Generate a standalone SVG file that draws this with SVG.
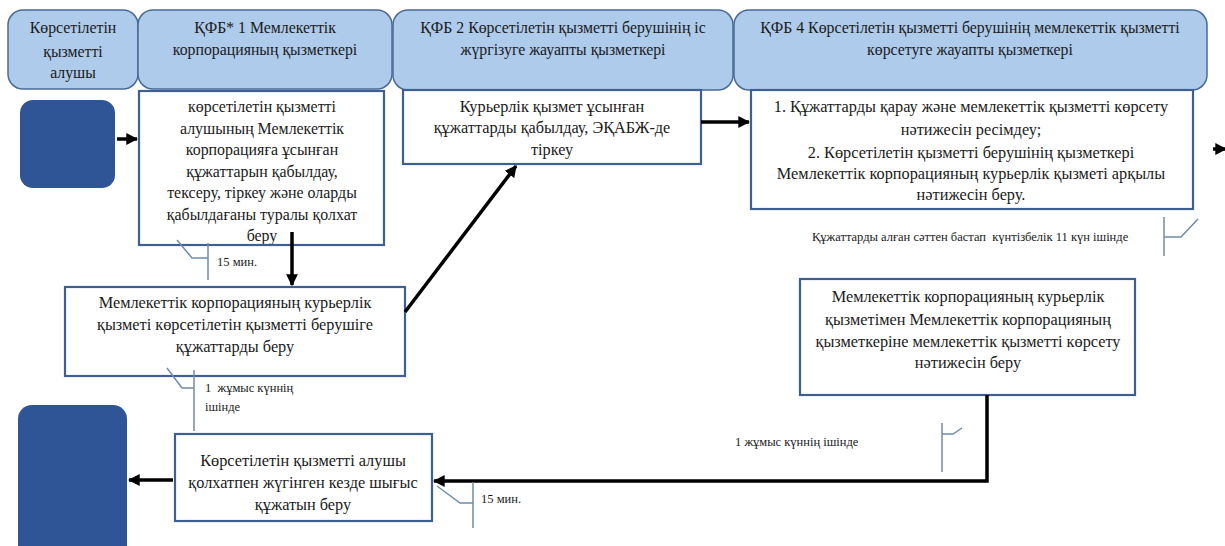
<svg xmlns="http://www.w3.org/2000/svg" width="1225" height="546" viewBox="0 0 1225 546">
<defs>
<style>
.hdr{fill:#AECBEB;stroke:#4A6A96;stroke-width:1.5}
.term{fill:#2F5597;stroke:none}
.box{fill:#FFFFFF;stroke:#3D5F91;stroke-width:2.2}
.t{font-family:"Liberation Serif","DejaVu Serif","Times New Roman",serif;fill:#1a1a1a;text-anchor:middle}
.th{font-size:15.8px}
.tb{font-size:16.3px}
.ta{font-size:15.9px}
.ts{font-family:"Liberation Serif","DejaVu Serif","Times New Roman",serif;fill:#1a1a1a;font-size:12.5px;white-space:pre}
.con{fill:none;stroke:#000;stroke-width:3.5}
.call{fill:none;stroke:#6F8BAA;stroke-width:1.5}
</style>
<marker id="ah" viewBox="0 0 10 10" refX="9" refY="5" markerWidth="3.4" markerHeight="3.4" orient="auto">
<path d="M0,0 L10,5 L0,10 z" fill="#000"/>
</marker>
</defs>

<g id="lane-recipient">
<rect class="hdr" x="8" y="10" width="130" height="79" rx="15"/>
<text class="t th" x="73" y="33">Көрсетілетін</text>
<text class="t th" x="73" y="57">қызметті</text>
<text class="t th" x="73" y="78">алушы</text>
</g>
<g id="lane-sfb1">
<rect class="hdr" x="138" y="10" width="254" height="79" rx="15"/>
<text class="t th" x="265" y="33">ҚФБ* 1 Мемлекеттік</text>
<text class="t th" x="265" y="55">корпорацияның қызметкері</text>
</g>
<g id="lane-sfb2">
<rect class="hdr" x="393" y="10" width="340" height="80" rx="15"/>
<text class="t th" x="563" y="33">ҚФБ 2 Көрсетілетін қызметті берушінің іс</text>
<text class="t th" x="563" y="55">жүргізуге жауапты қызметкері</text>
</g>
<g id="lane-sfb4">
<rect class="hdr" x="734" y="10" width="473" height="80" rx="15"/>
<text class="t th" x="970" y="33">ҚФБ 4 Көрсетілетін қызметті берушінің мемлекеттік қызметті</text>
<text class="t th" x="970" y="55">көрсетуге жауапты қызметкері</text>
</g>

<g id="start">
<rect class="term" x="20" y="100" width="95" height="88" rx="13"/>
</g>
<g id="end">
<rect class="term" x="18" y="405" width="109" height="160" rx="14"/>
</g>

<g id="step-a">
<text class="t ta" x="262" y="112">көрсетілетін қызметті</text>
<text class="t ta" x="262" y="133.5">алушының Мемлекеттік</text>
<text class="t ta" x="262" y="155">корпорацияға ұсынған</text>
<text class="t ta" x="262" y="176.5">құжаттарын қабылдау,</text>
<text class="t ta" x="262" y="198">тексеру, тіркеу және оларды</text>
<text class="t ta" x="262" y="219.5">қабылдағаны туралы қолхат</text>
<text class="t ta" x="262" y="241">беру</text>
<rect class="box" x="139" y="91" width="245" height="154" style="fill:none"/>
</g>

<g id="step-b">
<rect class="box" x="65" y="287" width="340" height="89"/>
<text class="t tb" x="235" y="308">Мемлекеттік корпорацияның курьерлік</text>
<text class="t tb" x="235" y="330">қызметі көрсетілетін қызметті берушіге</text>
<text class="t tb" x="235" y="352">құжаттарды беру</text>
</g>

<g id="step-c">
<rect class="box" x="403" y="90" width="298" height="74"/>
<text class="t tb" x="552" y="112">Курьерлік қызмет ұсынған</text>
<text class="t tb" x="552" y="133">құжаттарды қабылдау, ЭҚАБЖ-де</text>
<text class="t tb" x="552" y="155">тіркеу</text>
</g>

<g id="step-d">
<rect class="box" x="751" y="90" width="442" height="119"/>
<text class="t tb" x="971" y="112">1. Құжаттарды қарау және мемлекеттік қызметті көрсету</text>
<text class="t tb" x="971" y="135">нәтижесін ресімдеу;</text>
<text class="t tb" x="971" y="158">2. Көрсетілетін қызметті берушінің қызметкері</text>
<text class="t tb" x="971" y="179">Мемлекеттік корпорацияның курьерлік қызметі арқылы</text>
<text class="t tb" x="971" y="200">нәтижесін беру.</text>
</g>

<g id="step-e">
<rect class="box" x="800" y="279" width="335" height="116"/>
<text class="t tb" x="968" y="302">Мемлекеттік корпорацияның курьерлік</text>
<text class="t tb" x="968" y="325">қызметімен Мемлекеттік корпорацияның</text>
<text class="t tb" x="968" y="347">қызметкеріне мемлекеттік қызметті көрсету</text>
<text class="t tb" x="968" y="368">нәтижесін беру</text>
</g>

<g id="step-f">
<rect class="box" x="175" y="434" width="257" height="87"/>
<text class="t tb" x="303" y="466">Көрсетілетін қызметті алушы</text>
<text class="t tb" x="303" y="488">қолхатпен жүгінген кезде шығыс</text>
<text class="t tb" x="303" y="510">құжатын беру</text>
</g>

<g id="connectors">
<line class="con" x1="117" y1="139" x2="137" y2="139" marker-end="url(#ah)"/>
<line class="con" x1="292" y1="232" x2="292" y2="285" marker-end="url(#ah)"/>
<line class="con" x1="405" y1="312" x2="516" y2="166" marker-end="url(#ah)"/>
<line class="con" x1="701" y1="122" x2="749" y2="122" marker-end="url(#ah)"/>
<line class="con" x1="1213" y1="149" x2="1226" y2="149" marker-end="url(#ah)"/>
<polyline class="con" points="987,395 987,481 434,481" marker-end="url(#ah)"/>
<line class="con" x1="173" y1="480" x2="129" y2="480" marker-end="url(#ah)"/>
</g>

<g id="callouts">
<polyline class="call" points="177,240 192,258 208,258"/>
<line class="call" x1="208" y1="243" x2="208" y2="280"/>
<text class="ts" x="217" y="266">15 мин.</text>

<polyline class="call" points="167,368 182,388 194,388"/>
<line class="call" x1="194" y1="370" x2="194" y2="431"/>
<text class="ts" x="205" y="392" xml:space="preserve">1  жұмыс күннің</text>
<text class="ts" x="205" y="411">ішінде</text>

<line class="call" x1="1164" y1="217" x2="1164" y2="256"/>
<polyline class="call" points="1164,237 1181,237 1198,219"/>
<text class="ts" x="812" y="241" xml:space="preserve">Құжаттарды алған сәттен бастап  күнтізбелік 11 күн ішінде</text>

<line class="call" x1="942" y1="423" x2="942" y2="472"/>
<polyline class="call" points="942,434 953,434 962,428"/>
<text class="ts" x="735" y="446">1 жұмыс күннің ішінде</text>

<polyline class="call" points="437,486 460,503 473,503"/>
<line class="call" x1="473" y1="482" x2="473" y2="528"/>
<text class="ts" x="481" y="503">15 мин.</text>
</g>
</svg>
